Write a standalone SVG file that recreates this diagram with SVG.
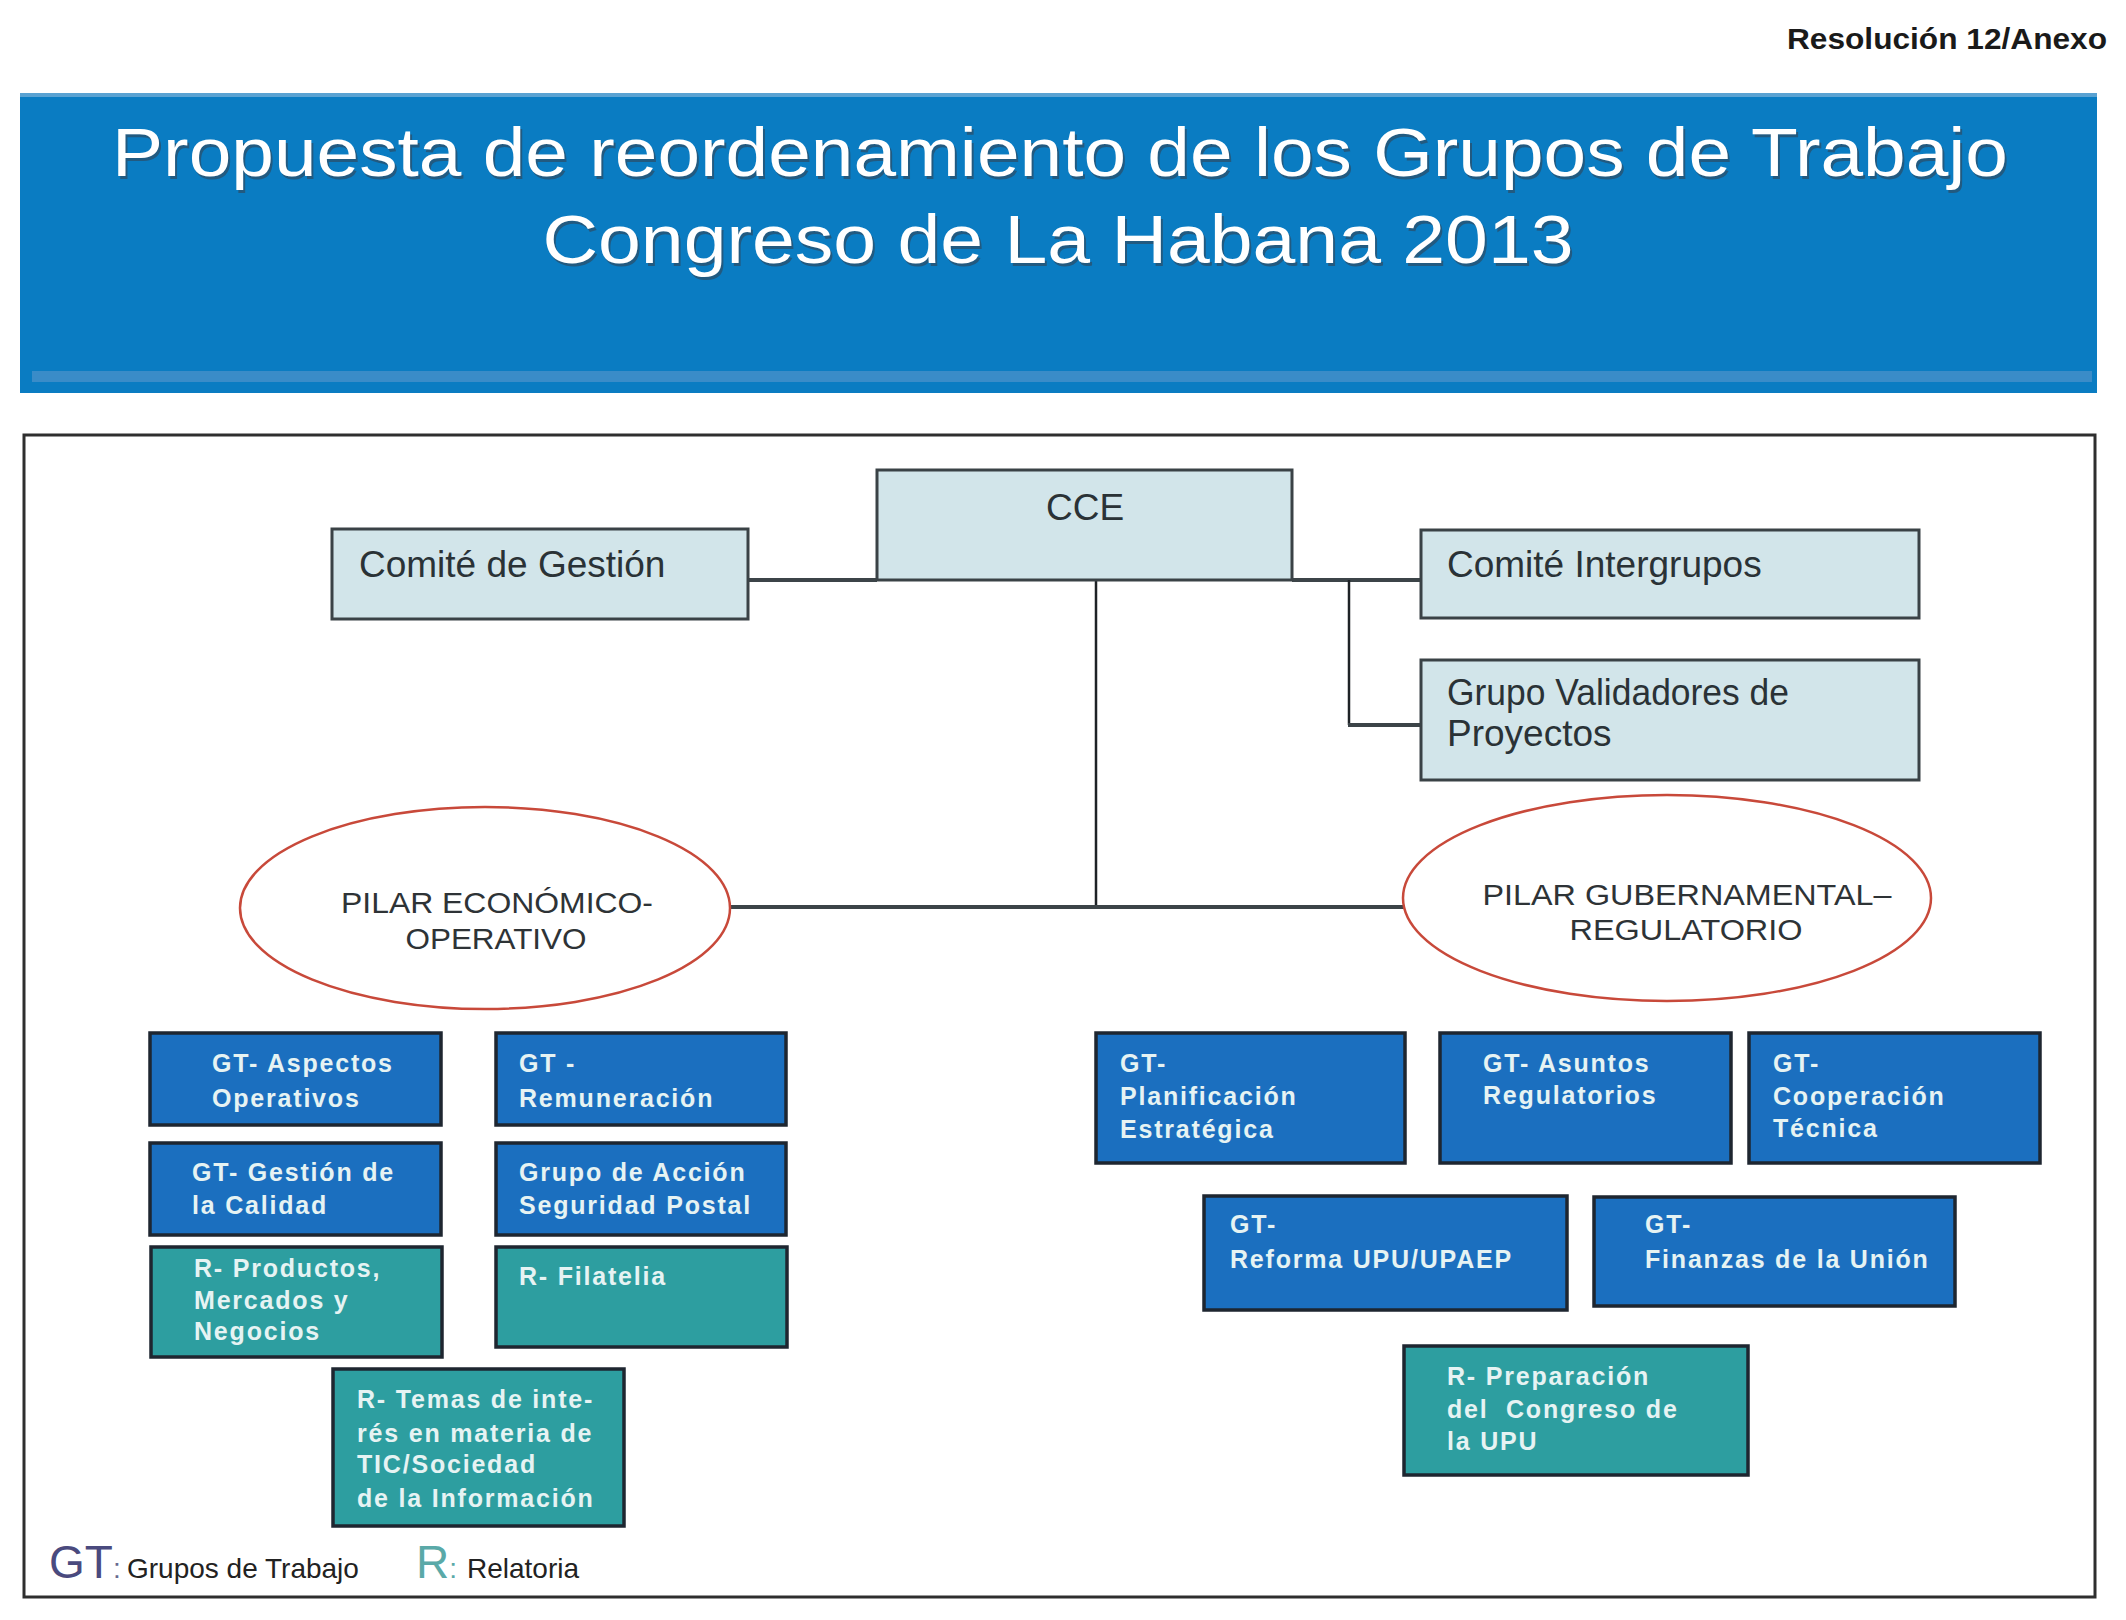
<svg xmlns="http://www.w3.org/2000/svg" width="2126" height="1620" viewBox="0 0 2126 1620">
<defs>
<style>
.sans{font-family:"Liberation Sans",Arial,sans-serif}
.top{fill:#d2e5ea;stroke:#3a4246;stroke-width:3}
.toptx{font-family:"Liberation Sans",Arial,sans-serif;font-size:37px;fill:#2a3236}
.blue{fill:#1b6fbf;stroke:#1e2630;stroke-width:3.5}
.teal{fill:#2d9ea0;stroke:#1e2630;stroke-width:3.5}
.btx{font-family:"Liberation Sans",Arial,sans-serif;font-size:25px;font-weight:bold;fill:#e6f3f3;letter-spacing:1.8px}
.pil{fill:#ffffff;stroke:#c8493a;stroke-width:2.5}
.piltx{font-family:"Liberation Sans",Arial,sans-serif;font-size:30px;fill:#2e3336;text-anchor:middle}
.thick{stroke:#3c4448;stroke-width:4;fill:none}
.thin{stroke:#1e2226;stroke-width:2.5;fill:none}
.title{font-family:"Liberation Sans",Arial,sans-serif;font-size:68px;text-anchor:middle}
</style>
</defs>
<rect width="2126" height="1620" fill="#ffffff"/>

<g id="header">
<text x="2107" y="49" class="sans" font-size="30" font-weight="bold" fill="#1a1a1a" text-anchor="end" textLength="320" lengthAdjust="spacingAndGlyphs">Resolución 12/Anexo</text>
<rect x="20" y="93" width="2077" height="300" fill="#0a7cc2"/>
<rect x="20" y="93" width="2077" height="4" fill="#5aa2d2"/>
<rect x="32" y="371" width="2060" height="11" fill="#3a8cc8"/>
<text x="1062" y="179" class="title" fill="#334455" opacity="0.6" textLength="1896" lengthAdjust="spacingAndGlyphs">Propuesta de reordenamiento de los Grupos de Trabajo</text>
<text x="1060" y="176" class="title" fill="#ffffff" textLength="1896" lengthAdjust="spacingAndGlyphs">Propuesta de reordenamiento de los Grupos de Trabajo</text>
<text x="1060" y="266" class="title" fill="#334455" opacity="0.6" textLength="1031" lengthAdjust="spacingAndGlyphs">Congreso de La Habana 2013</text>
<text x="1058" y="263" class="title" fill="#ffffff" textLength="1031" lengthAdjust="spacingAndGlyphs">Congreso de La Habana 2013</text>
</g>

<rect id="frame" x="24" y="435" width="2071" height="1162" fill="none" stroke="#2e2e2e" stroke-width="3"/>

<g id="connectors">
<line class="thick" x1="748" y1="580" x2="877" y2="580"/>
<line class="thick" x1="1292" y1="580" x2="1421" y2="580"/>
<line class="thin" x1="1349" y1="580" x2="1349" y2="725"/>
<line class="thick" x1="1348" y1="725" x2="1421" y2="725"/>
<line class="thin" x1="1096" y1="580" x2="1096" y2="907"/>
<line class="thick" x1="730" y1="907" x2="1404" y2="907"/>
</g>

<g id="cce">
<rect class="top" x="877" y="470" width="415" height="110"/>
<text class="toptx" x="1085" y="520" text-anchor="middle">CCE</text>
</g>
<g id="comite-gestion">
<rect class="top" x="332" y="529" width="416" height="90"/>
<text class="toptx" x="359" y="577">Comité de Gestión</text>
</g>
<g id="comite-intergrupos">
<rect class="top" x="1421" y="530" width="498" height="88"/>
<text class="toptx" x="1447" y="577">Comité Intergrupos</text>
</g>
<g id="grupo-validadores">
<rect class="top" x="1421" y="660" width="498" height="120"/>
<text class="toptx" x="1447" y="705" textLength="342" lengthAdjust="spacingAndGlyphs">Grupo Validadores de</text>
<text class="toptx" x="1447" y="746">Proyectos</text>
</g>

<g id="pilar-economico">
<ellipse class="pil" cx="485" cy="908" rx="245" ry="101"/>
<text class="piltx" x="497" y="913" textLength="312" lengthAdjust="spacingAndGlyphs">PILAR ECONÓMICO-</text>
<text class="piltx" x="496" y="949" textLength="181" lengthAdjust="spacingAndGlyphs">OPERATIVO</text>
</g>
<g id="pilar-gubernamental">
<ellipse class="pil" cx="1667" cy="898" rx="264" ry="103"/>
<text class="piltx" x="1687" y="905" textLength="409" lengthAdjust="spacingAndGlyphs">PILAR GUBERNAMENTAL–</text>
<text class="piltx" x="1686" y="940" textLength="233" lengthAdjust="spacingAndGlyphs">REGULATORIO</text>
</g>

<g id="gt-aspectos">
<rect class="blue" x="150" y="1033" width="291" height="92"/>
<text class="btx" x="212" y="1072">GT- Aspectos</text>
<text class="btx" x="212" y="1107">Operativos</text>
</g>
<g id="gt-remuneracion">
<rect class="blue" x="496" y="1033" width="290" height="92"/>
<text class="btx" x="519" y="1072">GT -</text>
<text class="btx" x="519" y="1107">Remuneración</text>
</g>
<g id="gt-calidad">
<rect class="blue" x="150" y="1143" width="291" height="92"/>
<text class="btx" x="192" y="1181">GT- Gestión de</text>
<text class="btx" x="192" y="1214">la Calidad</text>
</g>
<g id="grupo-seguridad">
<rect class="blue" x="496" y="1143" width="290" height="92"/>
<text class="btx" x="519" y="1181">Grupo de Acción</text>
<text class="btx" x="519" y="1214">Seguridad Postal</text>
</g>
<g id="r-productos">
<rect class="teal" x="151" y="1247" width="291" height="110"/>
<text class="btx" x="194" y="1277">R- Productos,</text>
<text class="btx" x="194" y="1309">Mercados y</text>
<text class="btx" x="194" y="1340">Negocios</text>
</g>
<g id="r-filatelia">
<rect class="teal" x="496" y="1247" width="291" height="100"/>
<text class="btx" x="519" y="1285">R- Filatelia</text>
</g>
<g id="r-tic">
<rect class="teal" x="333" y="1369" width="291" height="157"/>
<text class="btx" x="357" y="1408">R- Temas de inte-</text>
<text class="btx" x="357" y="1442">rés en materia de</text>
<text class="btx" x="357" y="1473">TIC/Sociedad</text>
<text class="btx" x="357" y="1507">de la Información</text>
</g>

<g id="gt-planificacion">
<rect class="blue" x="1096" y="1033" width="309" height="130"/>
<text class="btx" x="1120" y="1072">GT-</text>
<text class="btx" x="1120" y="1105">Planificación</text>
<text class="btx" x="1120" y="1138">Estratégica</text>
</g>
<g id="gt-asuntos">
<rect class="blue" x="1440" y="1033" width="291" height="130"/>
<text class="btx" x="1483" y="1072">GT- Asuntos</text>
<text class="btx" x="1483" y="1104">Regulatorios</text>
</g>
<g id="gt-cooperacion">
<rect class="blue" x="1749" y="1033" width="291" height="130"/>
<text class="btx" x="1773" y="1072">GT-</text>
<text class="btx" x="1773" y="1105">Cooperación</text>
<text class="btx" x="1773" y="1137">Técnica</text>
</g>
<g id="gt-reforma">
<rect class="blue" x="1204" y="1196" width="363" height="114"/>
<text class="btx" x="1230" y="1233">GT-</text>
<text class="btx" x="1230" y="1268">Reforma UPU/UPAEP</text>
</g>
<g id="gt-finanzas">
<rect class="blue" x="1594" y="1197" width="361" height="109"/>
<text class="btx" x="1645" y="1233">GT-</text>
<text class="btx" x="1645" y="1268">Finanzas de la Unión</text>
</g>
<g id="r-preparacion">
<rect class="teal" x="1404" y="1346" width="344" height="129"/>
<text class="btx" x="1447" y="1385">R- Preparación</text>
<text class="btx" x="1447" y="1418" xml:space="preserve">del  Congreso de</text>
<text class="btx" x="1447" y="1450">la UPU</text>
</g>

<g id="legend">
<text x="49" y="1578" class="sans" font-size="28" fill="#222222"><tspan font-size="46" fill="#4a4a7e">GT</tspan><tspan fill="#6a6a90">:</tspan><tspan x="127">Grupos de Trabajo</tspan></text>
<text x="416" y="1578" class="sans" font-size="28" fill="#222222"><tspan font-size="46" fill="#5aa9a8">R</tspan><tspan fill="#5aa9a8">:</tspan><tspan x="467">Relatoria</tspan></text>
</g>
</svg>
